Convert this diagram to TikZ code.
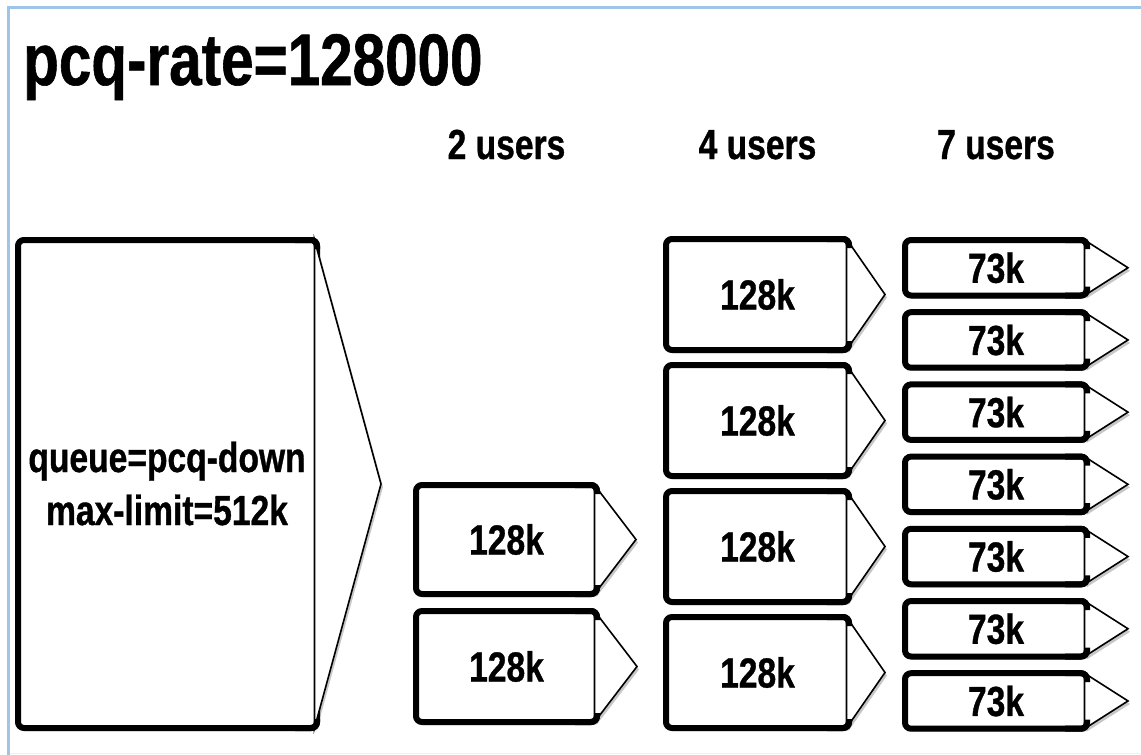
\documentclass[tikz,border=0pt]{standalone}
\usepackage{fontspec}
\setmainfont{Liberation Sans}[FakeStretch=0.8, BoldFeatures={FakeBold=0.8}]
\usetikzlibrary{shadows}
\definecolor{framecol}{RGB}{158,196,232}
\tikzset{
  boxline/.style={line width=6pt, rounded corners=6pt, draw=black},
  tipline/.style={line width=1.6pt, draw=black, fill=white},
  softshadow/.style={drop shadow={shadow xshift=2pt, shadow yshift=-3pt, opacity=0.22, fill=black}},
  lbl/.style={font=\bfseries\fontsize{42}{46}\selectfont, inner sep=0pt},
  hdr/.style={font=\bfseries\fontsize{42}{46}\selectfont, inner sep=0pt, anchor=base},
  mainlbl/.style={font=\bfseries\fontsize{42}{53}\selectfont, inner sep=0pt, anchor=base},
}
\newcommand\qbox[7]{%
  \pgfmathsetmacro\qmid{(#2+#4)/2}%
  \draw[boxline, fill=white, softshadow] (#1+3,#2+3) rectangle (#3-3,#4-3);
  \filldraw[tipline, softshadow] (#3-5.5,#2+3) -- (#5,\qmid) -- (#3-5.5,#4-3) -- cycle;
  \draw[boxline] (#3-3,#2+12) -- (#3-3,#2+3) -- (#3-25,#2+3);
  \draw[boxline] (#3-3,#4-12) -- (#3-3,#4-3) -- (#3-25,#4-3);
  \node[lbl, anchor=base] (#6) at ({(#1+#3)/2},\qmid+15) {#7};
}
\begin{document}
\begin{tikzpicture}[x=1pt,y=-1pt]
\useasboundingbox (0,0) rectangle (1141,755);
\fill[white] (0,0) rectangle (1141,755);
% frame
\draw[gray!10, line width=1pt] (8.5,753) -- (1141,753);
\draw[framecol, line width=3pt] (8.5,755) -- (8.5,7.5) -- (1141,7.5);
% title
\node[font=\bfseries\fontsize{73}{80}\selectfont, inner sep=0pt, anchor=base west] (title) at (23,85) {pcq-rate=128000};
% headers
\node[hdr] (h2) at (506.5,159) {2 users};
\node[hdr] (h4) at (757.5,159) {4 users};
\node[hdr] (h7) at (996,159) {7 users};
% main queue
\draw[boxline, fill=white, softshadow] (18,240) rectangle (317,728);
\filldraw[tipline, softshadow] (314.5,240) -- (381,484) -- (314.5,728) -- cycle;
\draw[boxline] (317,249) -- (317,240) -- (295,240);
\draw[boxline] (317,719) -- (317,728) -- (295,728);
\node[mainlbl] (q1) at (167,472) {queue=pcq-down};
\node[mainlbl] (q2) at (167,525) {max-limit=512k};
% 2 users
\qbox{413}{482}{600}{597}{636}{a1}{128k}
\qbox{413}{608}{600}{725}{637}{a2}{128k}
% 4 users
\qbox{663}{236}{852}{353}{885}{b1}{128k}
\qbox{663}{362}{852}{479}{885}{b2}{128k}
\qbox{663}{488}{852}{605}{885}{b3}{128k}
\qbox{663}{614}{852}{731}{885}{b4}{128k}
% 7 users
\qbox{902}{237}{1090}{298.5}{1128}{c1}{73k}
\qbox{902}{309.2}{1090}{370.7}{1128}{c2}{73k}
\qbox{902}{381.4}{1090}{442.9}{1128}{c3}{73k}
\qbox{902}{453.6}{1090}{515.1}{1128}{c4}{73k}
\qbox{902}{525.8}{1090}{587.3}{1128}{c5}{73k}
\qbox{902}{598}{1090}{659.5}{1128}{c6}{73k}
\qbox{902}{670.2}{1090}{731.7}{1128}{c7}{73k}
\end{tikzpicture}
\end{document}
